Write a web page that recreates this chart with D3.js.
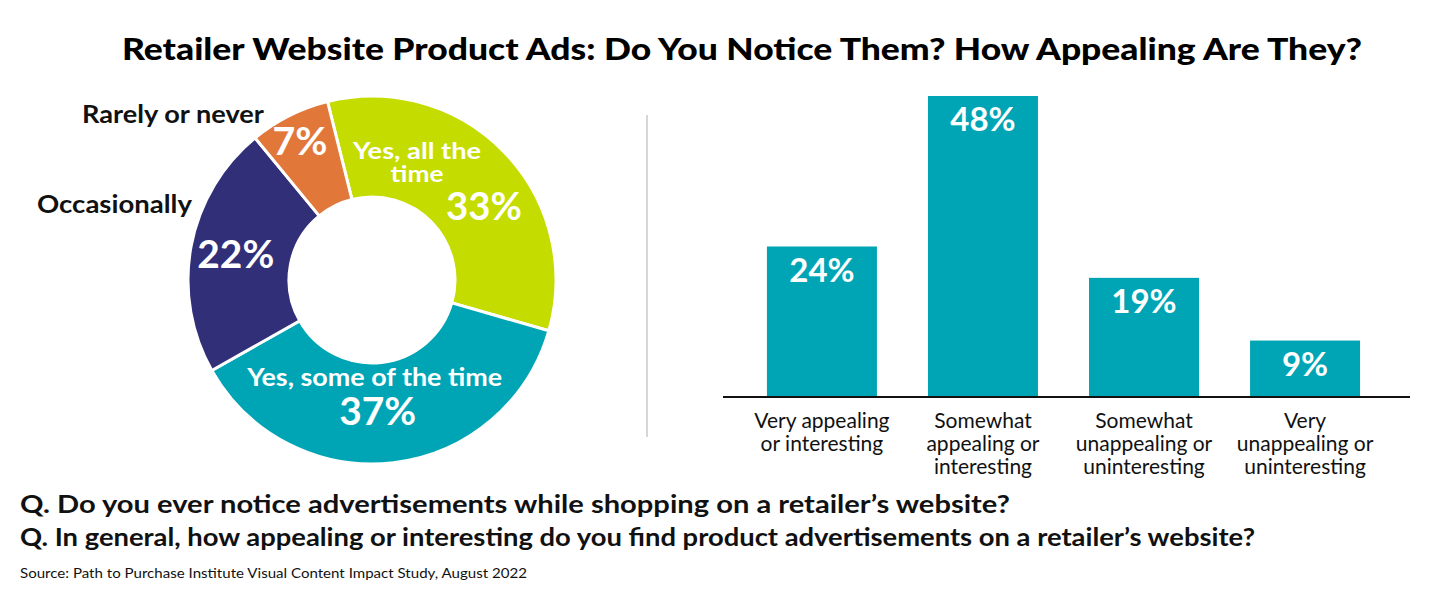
<!DOCTYPE html>
<html>
<head>
<meta charset="utf-8">
<script src="https://cdn.jsdelivr.net/npm/d3@7"></script>
<style>
  body { margin: 0; background: #fff; }
  svg { display: block; font-family: Lato, "Open Sans", sans-serif; }
</style>
</head>
<body>
<svg id="chart" width="1440" height="591"></svg>
<script>
// donut data (order clockwise from just left of top)
var pieLabels = ["Yes, all the time", "Yes, some of the time", "Occasionally", "Rarely or never"];
var pieValues = [33, 37, 22, 7];
var pieColors = ["#c4dc00", "#00a5b5", "#312f77", "#e2773a"];

// bar data
var barCats = [
  ["Very appealing", "or interesting"],
  ["Somewhat", "appealing or", "interesting"],
  ["Somewhat", "unappealing or", "uninteresting"],
  ["Very", "unappealing or", "uninteresting"]
];
var barValues = [24, 48, 19, 9];
var barColor = "#00a5b5";

var svg = d3.select("#chart");

// title
svg.append("text")
  .attr("x", 742).attr("y", 60)
  .attr("text-anchor", "middle")
  .attr("font-size", 31).attr("font-weight", 900)
  .attr("textLength", 1240).attr("lengthAdjust", "spacingAndGlyphs")
  .text("Retailer Website Product Ads: Do You Notice Them? How Appealing Are They?");

// ---- donut ----
var cx = 372, cy = 280, R = 184, r0 = 83;
var a0 = -14 * Math.PI / 180;
var pie = d3.pie().sort(null).value(function(d) { return d; })
  .startAngle(a0).endAngle(a0 + 2 * Math.PI);
var arcs = pie(pieValues);
var arc = d3.arc().innerRadius(r0).outerRadius(R);
var gPie = svg.append("g").attr("transform", "translate(" + cx + "," + cy + ")");

gPie.selectAll("path").data(arcs).enter().append("path")
  .attr("d", arc)
  .attr("fill", function(d, i) { return pieColors[i]; })
  .attr("stroke", "#fff").attr("stroke-width", 3);

function pct(i) { return pieValues[i] + "%"; }
function txt(g, c, dx, dy, size, len, s) {
  var t = g.append("text").attr("x", c[0] + dx).attr("y", c[1] + dy)
    .attr("font-size", size).text(s);
  if (len) t.attr("textLength", len).attr("lengthAdjust", "spacingAndGlyphs");
  return t;
}
var gl = gPie.append("g").attr("fill", "#fff").attr("font-weight", 700).attr("text-anchor", "middle");

var c0 = arc.centroid(arcs[0]);
// two-line label in one text element
var t0 = gl.append("text").attr("font-size", 22);
t0.append("tspan").attr("x", c0[0] - 51).attr("y", c0[1] - 28)
  .attr("textLength", 128).attr("lengthAdjust", "spacingAndGlyphs").text("Yes, all the");
t0.append("tspan").attr("x", c0[0] - 51).attr("y", c0[1] - 5)
  .attr("textLength", 53).attr("lengthAdjust", "spacingAndGlyphs").text("time");
txt(gl, c0, 16, 33, 38, 76, pct(0));

var c1 = arc.centroid(arcs[1]);
txt(gl, c1, -13, -27, 24, 255, pieLabels[1]);
txt(gl, c1, -10, 12, 38, 77, pct(1));

var c2 = arc.centroid(arcs[2]);
txt(gl, c2, -5, 12, 38, 77, pct(2));

var c3 = arc.centroid(arcs[3]);
txt(gl, c3, -12, -6, 38, 55, pct(3));

// outside labels
svg.append("text").attr("x", 264).attr("y", 123).attr("text-anchor", "end")
  .attr("font-size", 24).attr("font-weight", 700).attr("fill", "#111")
  .attr("textLength", 182).attr("lengthAdjust", "spacingAndGlyphs").text(pieLabels[3]);
svg.append("text").attr("x", 192).attr("y", 213).attr("text-anchor", "end")
  .attr("font-size", 24).attr("font-weight", 700).attr("fill", "#111")
  .attr("textLength", 155).attr("lengthAdjust", "spacingAndGlyphs").text(pieLabels[2]);

// divider
svg.append("line").attr("x1", 647).attr("x2", 647).attr("y1", 115).attr("y2", 437)
  .attr("stroke", "#c8c8c8").attr("stroke-width", 1.5);

// ---- bars ----
var x = d3.scaleBand().domain(d3.range(barValues.length))
  .range([741.5, 1385.5]).paddingInner(0.317).paddingOuter(0.158);
var y = d3.scaleLinear().domain([0, 48]).range([397, 96]);

svg.selectAll("rect.bar").data(barValues).enter().append("rect")
  .attr("class", "bar")
  .attr("x", function(d, i) { return x(i); })
  .attr("y", function(d) { return y(d); })
  .attr("width", x.bandwidth())
  .attr("height", function(d) { return y(0) - y(d); })
  .attr("fill", barColor);

svg.selectAll("text.val").data(barValues).enter().append("text")
  .attr("class", "val")
  .attr("x", function(d, i) { return x(i) + x.bandwidth() / 2; })
  .attr("y", function(d) { return y(d) + 35; })
  .attr("text-anchor", "middle").attr("fill", "#fff")
  .attr("font-size", 33).attr("font-weight", 700)
  .text(function(d) { return d + "%"; });

svg.append("line").attr("x1", 723).attr("x2", 1410).attr("y1", y(0)).attr("y2", y(0))
  .attr("stroke", "#111").attr("stroke-width", 2);

var cat = svg.selectAll("text.cat").data(barCats).enter().append("text")
  .attr("class", "cat")
  .attr("text-anchor", "middle").attr("font-size", 21).attr("fill", "#111");
cat.selectAll("tspan").data(function(d, i) { return d.map(function(s) { return [s, i]; }); })
  .enter().append("tspan")
  .attr("x", function(d) { return x(d[1]) + x.bandwidth() / 2; })
  .attr("y", function(d, j) { return 428 + j * 23; })
  .text(function(d) { return d[0]; });

// ---- footer ----
svg.append("text").attr("x", 20).attr("y", 513)
  .attr("font-size", 24).attr("font-weight", 700).attr("fill", "#111")
  .attr("textLength", 990).attr("lengthAdjust", "spacingAndGlyphs")
  .text("Q. Do you ever notice advertisements while shopping on a retailer\u2019s website?");
svg.append("text").attr("x", 20).attr("y", 546)
  .attr("font-size", 24).attr("font-weight", 700).attr("fill", "#111")
  .attr("textLength", 1235).attr("lengthAdjust", "spacingAndGlyphs")
  .text("Q. In general, how appealing or interesting do you find product advertisements on a retailer\u2019s website?");
svg.append("text").attr("x", 20).attr("y", 578)
  .attr("font-size", 14).attr("fill", "#111")
  .attr("textLength", 507).attr("lengthAdjust", "spacingAndGlyphs")
  .text("Source: Path to Purchase Institute Visual Content Impact Study, August 2022");
</script>
</body>
</html>
